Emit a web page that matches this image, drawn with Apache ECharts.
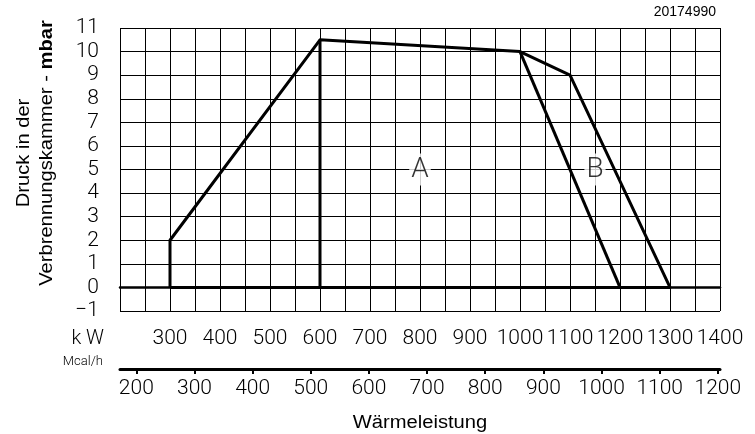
<!DOCTYPE html>
<html>
<head>
<meta charset="utf-8">
<script src="https://cdn.jsdelivr.net/npm/echarts@6/dist/echarts.min.js"></script>
<style>
  html, body { margin: 0; padding: 0; background: #fff; }
  #chart { width: 755px; height: 434px; }
</style>
</head>
<body>
<div id="chart"></div>
<script>
// kW -> Mcal/h
var KW_TO_MCAL = 0.8598;

// Working field outline (kW / mbar)
var outerKw   = [300, 300, 600, 1000, 1100, 1300, 300];
var outerMbar = [0, 2, 10.5, 10, 9, 0, 0];
// divider between A and rest
var splitAKw   = [600, 600];
var splitAMbar = [10.5, 0];
// divider between A and B
var splitBKw   = [1000, 1200];
var splitBMbar = [10, 0];
// area names
var areaNames = ['A', 'B'];
var areaKw    = [800, 1150];
var areaMbar  = [5, 5];

// tick labels
var kwTicks   = [300, 400, 500, 600, 700, 800, 900, 1000, 1100, 1200, 1300, 1400];
var mcalTicks = [200, 300, 400, 500, 600, 700, 800, 900, 1000, 1100, 1200];

var plain = function (v) { return v < 0 ? '\u2212' + Math.abs(v) : String(v); };

var tickFont = { fontFamily: 'Roboto', fontWeight: 300, fontSize: 21, color: '#000', formatter: plain, showMinLabel: true, showMaxLabel: true, hideOverlap: false };

var pairs = function (xs, ys) {
  var out = [];
  for (var i = 0; i < xs.length; i++) out.push([xs[i], ys[i]]);
  return out;
};

var lineSeries = function (xs, ys) {
  return {
    type: 'line',
    xAxisIndex: 0,
    yAxisIndex: 0,
    data: pairs(xs, ys),
    symbol: 'none',
    lineStyle: { color: '#000', width: 3, join: 'round' },
    silent: true
  };
};

var labelData = [];
for (var i = 0; i < areaNames.length; i++) {
  labelData.push({ value: [areaKw[i], areaMbar[i]], name: areaNames[i] });
}

var myChart = echarts.init(document.getElementById('chart'));
var option = {
  animation: false,
  backgroundColor: '#fff',
  grid: { left: 120, right: 35, top: 28, bottom: 123, containLabel: false },
  xAxis: [
    {
      type: 'value',
      min: 200,
      max: 1400,
      interval: 50,
      position: 'bottom',
      axisLine: { show: true, lineStyle: { color: '#000', width: 2.5 } },
      axisTick: { show: false },
      splitLine: { show: true, lineStyle: { color: '#000', width: 1 } },
      axisLabel: Object.assign({ customValues: kwTicks, margin: 17 }, tickFont)
    },
    {
      type: 'value',
      min: 200 * KW_TO_MCAL,
      max: 1400 * KW_TO_MCAL,
      position: 'bottom',
      offset: 58,
      axisLine: { show: true, lineStyle: { color: '#000', width: 3 } },
      axisTick: { show: true, customValues: mcalTicks, length: 5, lineStyle: { color: '#000', width: 2 } },
      splitLine: { show: false },
      axisLabel: Object.assign({ customValues: mcalTicks, margin: 9 }, tickFont)
    }
  ],
  yAxis: {
    type: 'value',
    min: -1,
    max: 11,
    interval: 1,
    axisLine: { show: false },
    axisTick: { show: false },
    splitLine: { show: true, lineStyle: { color: '#000', width: 1 } },
    axisLabel: Object.assign({ margin: 21 }, tickFont)
  },
  series: [
    lineSeries(outerKw, outerMbar),
    lineSeries(splitAKw, splitAMbar),
    lineSeries(splitBKw, splitBMbar),
    {
      type: 'scatter',
      data: labelData,
      symbolSize: 0,
      silent: true,
      label: {
        show: true,
        position: 'inside',
        formatter: '{b}',
        fontFamily: 'Roboto',
        fontWeight: 300,
        fontSize: 28,
        color: '#000',
        backgroundColor: '#fff',
        padding: [2, 2]
      }
    }
  ],
  graphic: [
    {
      type: 'text', x: 24, y: 153, rotation: Math.PI / 2, scaleX: 1.12,
      style: { text: 'Druck in der', font: '18px "Liberation Sans", Arial', fill: '#000', align: 'center', verticalAlign: 'middle' }
    },
    {
      type: 'text', x: 47, y: 153, rotation: Math.PI / 2, scaleX: 1.12,
      style: {
        text: 'Verbrennungskammer - {b|mbar}',
        font: '18px "Liberation Sans", Arial', fill: '#000', align: 'center', verticalAlign: 'middle',
        rich: { b: { fontFamily: 'Liberation Sans', fontSize: 18, fontWeight: 'bold', fill: '#000' } }
      }
    },
    {
      type: 'text', x: 420, y: 423, scaleX: 1.12,
      style: { text: 'Wärmeleistung', font: '18px "Liberation Sans", Arial', fill: '#000', align: 'center', verticalAlign: 'middle' }
    },
    {
      type: 'text', x: 716, y: 12,
      style: { text: '20174990', font: '14px "Liberation Sans", Arial', fill: '#000', align: 'right', verticalAlign: 'middle' }
    },
    {
      type: 'text', x: 104, y: 339,
      style: { text: 'k W', font: '300 20px Roboto', fill: '#000', align: 'right', verticalAlign: 'middle' }
    },
    {
      type: 'text', x: 103, y: 362,
      style: { text: 'Mcal/h', font: '300 13px Roboto', fill: '#000', align: 'right', verticalAlign: 'middle' }
    }
  ]
};
myChart.setOption(option);
window.onresize = myChart.resize;
</script>
</body>
</html>
